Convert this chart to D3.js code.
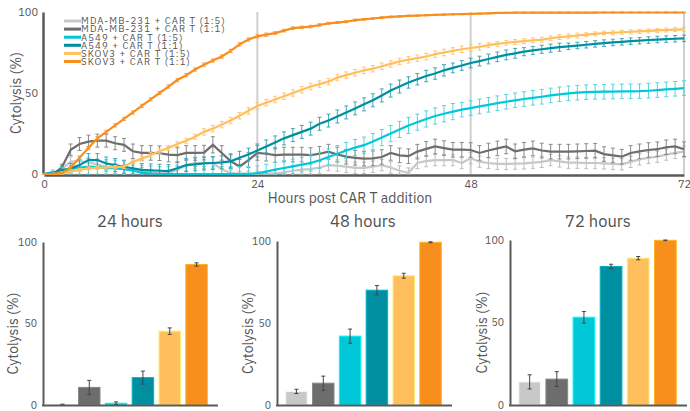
<!DOCTYPE html>
<html><head><meta charset="utf-8">
<script src="https://cdn.jsdelivr.net/npm/d3@7"></script>
<style>body{margin:0;background:#fff}svg{display:block}text{font-family:"IBM Plex Sans",Roboto,"Open Sans",sans-serif}</style>
</head><body><svg id="c" width="690" height="411"></svg>
<script>
const seriesNames = ["MDA-MB-231 + CAR T (1:5)","MDA-MB-231 + CAR T (1:1)","A549 + CAR T (1:5)","A549 + CAR T (1:1)","SKOV3 + CAR T (1:5)","SKOV3 + CAR T (1:1)"];
const seriesColors = ["#c8c8c8","#6d6d6d","#00c8d8","#008fa0","#ffbf5c","#f88f1c"];
const errColors = ["#bdbdbd","#8a8a8a","#4fd6e2","#3aa9b6","#ffc775","#f8a04a"];
const hours = d3.range(0,73);
const mda15 = [0,0.5,3,7.6,8,7,6,4.5,3.5,3,2.5,1.5,0.8,0.5,0.5,2.5,5.5,6.8,6.8,6.8,3,0.5,0.2,0.2,0.3,0.3,0.4,1,2,2.7,3,4,5.5,5.2,4.5,3.8,3.8,4.5,5.5,4,2,0.8,6.8,8,8.6,8.6,8.6,6.8,9.8,7.6,6.8,6.2,6.2,6.4,6.6,7,7.5,8.6,7.8,7,7,6.8,6.8,6.6,6.3,6,7.5,9,10,10.7,12,13,13.8];
const mda11 = [0,0,4,15,18.5,20,20.6,20.6,19,18,14,13,13,12.8,12,11.7,13,13,13.2,18,13,8,4.5,8.6,13,12.5,11.7,12,12,12,11.7,12.5,13.8,12,10.7,10,9.5,9.7,10.5,13,11.5,11,13.8,15.5,17,16,15,15,14.8,13,14.5,15.8,17,14,15,15.8,14.5,13.8,13.8,13.8,14,14.2,14.4,12.3,11.5,10.7,13,14,14.8,15.3,16.5,17,15.3];
const a54915 = [0,1,1.5,3,4,4.5,4.2,3.8,3.5,3,2,0.8,0.3,0,0,0,0,0,0,0,0,0,0,0,0.5,1.5,2.7,3.7,4.7,5.8,6.8,8.5,10.5,12.5,14.5,16.3,17.8,20,22.5,25,27.5,30,32,34,35.8,37.2,38.5,39.7,40.7,41.7,42.7,43.7,44.6,45.5,46.3,47,47.7,48.5,49.2,49.8,50.2,50.5,50.7,50.8,50.9,51,51,51.1,51.4,51.8,52.2,52.6,53];
const a54911 = [0,0.5,2.5,3.5,5.5,8.6,8.6,6.5,5.5,4.5,3.5,2.5,2.2,2,1.8,3.5,5.5,6,6.5,6.8,7.2,7.8,10,12,14.5,17,19.5,22,24,26,28,31,33,35.5,38,40.5,43,45.5,48.5,51.5,54,56.5,58.5,60.5,62,64,65.5,67,68.5,69.7,71,72.3,73.5,74.5,75.5,76.3,77,77.7,78.3,78.8,79.3,79.8,80.3,80.8,81.2,81.6,82,82.3,82.7,83,83.3,83.5,83.7];
const skov15 = [0,0,0.5,1.5,2.5,3.5,3.8,4,4.2,4.5,7.5,9.5,11.7,14,16,18.5,20.5,23,26,28,30.5,33,36,39,42,44,46,48,50,52,54,55.5,57,59.5,61,62.5,64,65,66.5,68,69.5,70.5,71.5,72.5,74,75,76,77,77.8,78.5,79.5,80.3,81,81.5,82,82.5,83,83.8,84.5,85,85.5,86,86.5,87,87.2,87.5,87.8,88,88.3,88.6,88.9,89.1,89.3];
const skov11 = [0,0,0.5,4,10,16,22,26,30,34,38,42,46,50,54,58,61,64.5,67.5,70,72.5,76,80,83,85,86,87,88.5,90,90.5,91,92,93,93.5,94,95,95.5,96,96.5,97,97.3,97.6,97.8,98,98.2,98.4,98.6,98.7,98.8,99,99.2,99.4,99.5,99.6,99.6,99.6,99.6,99.6,99.6,99.6,99.6,99.6,99.6,99.7,99.7,99.7,99.7,99.7,99.7,99.7,99.7,99.7,99.7];
const errMda15 = [0.3,1,2,3,3,3,3,3,3,3,3,2.5,2,2,2,3,3.5,3.5,3.5,3.5,3,2,1.5,1.5,1.5,1.5,2,2.5,3,3,3,3.5,3.5,3.5,3.5,3.5,3.5,3.5,3.5,3.5,3,3,3.5,3.5,3.5,3.5,3.5,3.5,3.5,3.5,3.5,3.5,3.5,3.5,3.5,3.5,3.5,3.5,3.5,3.5,3.5,3.5,3.5,3.5,3.5,3.5,3.5,3.5,3.5,3.5,3.5,3.5,3.5];
const errMda11 = [0.3,1,2,3.5,4,4,4,4,4,4,4.5,4.5,4.5,4.5,4.5,4.5,4.5,4.5,4.5,5,4.5,4.5,4.5,4.5,4.5,4.5,4.5,4.5,4.5,4.5,4.5,4.5,4.5,4.5,4.5,4.5,4.5,4.5,4.5,4.5,4.5,4.5,4.5,4.5,4.5,4.5,4.5,4.5,4.5,4.5,4.5,4.5,4.5,4.5,4.5,4.5,4.5,4.5,4.5,4.5,4.5,4.5,4.5,4.5,4.5,4.5,4.5,4.5,4.5,4.5,4.5,4.5,4.5];
const errA54915 = [0.3,1.5,2.5,3.5,4.5,5,5,5,5,5,4.5,4.5,4.5,4.5,4.5,4.5,4.5,4.5,4.5,4.5,4.5,4.5,4.5,4.5,4.5,4.5,4.5,4.5,4.5,4.5,5,5,5,5,5,5,5,5,5,5,5,5,5,5,5,5,5,4.5,4.5,4.5,4.5,4.5,4.5,4.5,4.5,4.5,4.5,4.5,4.5,4.5,4.5,4.5,4.5,4.5,4.5,4.5,4.5,4.5,4.5,4.5,4.5,4.5,4.5];
const errA54911 = [0.3,1,2,3,3.5,4,4,4,4,4,4,4,4,4,4,4,4,4,4,4,4,4,4,4,4,4,4,4,4,4,4,4,4,4,4,4,4,4,4,4,4,3.5,3.5,3.5,3.5,3.5,3,3,3,3,3,3,3,3,2.5,2.5,2.5,2.5,2.5,2,2,2,2,2,2,2,2,2,2,2,2,2,2];
const errSkov15 = [0.3,0.5,0.8,1,1,1,1,1,1,1,1.2,1.5,1.5,1.5,1.5,1.5,1.5,1.5,2,2,2,2,2,2,2,2,2,2,2,2,2,2,2,2,2,2,2,2,2,2,2,2,2,2,2,2,2,2,2,2,1.5,1.5,1.5,1.5,1.5,1.5,1.5,1.5,1.5,1.5,1.5,1.2,1.2,1.2,1.2,1.2,1.2,1.2,1.2,1.2,1.2,1.2,1.2];
const errSkov11 = [0.3,0.5,0.8,1,1,1,1,1,1,1,1,1,1,1,1,1,1,1,1,1,1,1,1,1,1,1,0.8,0.8,0.8,0.8,0.8,0.8,0.6,0.6,0.6,0.6,0.5,0.5,0.5,0.5,0.5,0.4,0.4,0.4,0.4,0.4,0.4,0.3,0.3,0.3,0.3,0.3,0.3,0.3,0.3,0.3,0.3,0.3,0.3,0.3,0.3,0.3,0.3,0.3,0.3,0.3,0.3,0.3,0.3,0.3,0.3,0.3,0.3];
const lineValues = [mda15, mda11, a54915, a54911, skov15, skov11];
const lineErrors = [errMda15, errMda11, errA54915, errA54911, errSkov15, errSkov11];
const xTicks = [0,24,48,72];
const yTicks = [0,50,100];
const panelTitles = ["24 hours","48 hours","72 hours"];
const bars24 = [0.3,10.8,1.1,16.8,45.3,86.2];
const err24 = [0.2,4.3,0.8,4,2,1];
const bars48 = [8.3,13.3,42,70,78.8,99.2];
const err48 = [1.3,4.3,4.3,2.8,1.5,0.3];
const bars72 = [14,15.7,53.2,84,89,99.8];
const err72 = [4.3,4.5,3.5,1.3,1,0.2];
const barValues = [bars24, bars48, bars72];
const barErrors = [err24, err48, err72];

const svg = d3.select("#c");
const axisCol = "#5a5a5a", textCol = "#555";

// ---------- top line chart ----------
const x = d3.scaleLinear().domain([0,72]).range([44,684]);
const y = d3.scaleLinear().domain([0,100]).range([174,12]);
const topG = svg.append("g");
topG.selectAll("line.grid").data(xTicks.slice(1)).join("line")
  .attr("x1",d=>x(d)).attr("x2",d=>x(d)).attr("y1",y(100)).attr("y2",y(0))
  .attr("stroke","#cfcfcf").attr("stroke-width",2);
const xAxis = topG.append("g").attr("transform",`translate(0,${y(0)+1})`)
  .call(d3.axisBottom(x).tickValues(xTicks).tickSize(0).tickPadding(5));
xAxis.select(".domain").attr("stroke",axisCol).attr("stroke-width",2.5);
xAxis.selectAll("text").attr("fill",textCol).attr("font-size",11);
const yAxis = topG.append("g").attr("transform",`translate(${x(0)-1},0)`)
  .call(d3.axisLeft(y).tickValues(yTicks).tickSize(0).tickPadding(5));
yAxis.select(".domain").attr("stroke",axisCol).attr("stroke-width",2.5);
yAxis.selectAll("text").attr("fill",textCol).attr("font-size",11);
topG.append("text").attr("x",350).attr("y",203).attr("text-anchor","middle")
  .attr("font-size",14).attr("fill",textCol).text("Hours post CAR T addition");
topG.append("text").attr("transform",`translate(21,${y(50)}) rotate(-90)`).attr("text-anchor","middle")
  .attr("font-size",14).attr("fill",textCol).text("Cytolysis (%)");

const line = d3.line().x((d,i)=>x(hours[i])).y(d=>y(d));
lineValues.forEach((vals,s)=>{
  const g = topG.append("g");
  const errs = lineErrors[s];
  vals.forEach((v,i)=>{
    const e = errs[i];
    const xx = x(hours[i]);
    const y1 = y(Math.max(v-e,0)), y2 = y(Math.min(v+e,100));
    g.append("line").attr("x1",xx).attr("x2",xx).attr("y1",y1).attr("y2",y2).attr("stroke",errColors[s]).attr("stroke-width",1);
    [y1,y2].forEach(yy=>g.append("line").attr("x1",xx-2).attr("x2",xx+2).attr("y1",yy).attr("y2",yy).attr("stroke",errColors[s]).attr("stroke-width",1));
  });
  g.append("path").datum(vals).attr("d",line).attr("fill","none")
    .attr("stroke",seriesColors[s]).attr("stroke-width",2.2);
});

// legend
const leg = topG.append("g");
seriesNames.forEach((n,i)=>{
  const yy = 21 + i*8.1;
  leg.append("line").attr("x1",64).attr("x2",81).attr("y1",yy).attr("y2",yy)
    .attr("stroke",seriesColors[i]).attr("stroke-width",3);
  leg.append("text").attr("x",81).attr("y",yy+3.3).attr("font-size",9.6)
    .attr("letter-spacing",1.1).attr("fill",textCol).text(n);
});

// ---------- bar panels ----------
const panels = [
  {x0:43, x1:218, y0:405, y1:242, tx:130, lx:13},
  {x0:277, x1:452, y0:405, y1:241, tx:363, lx:248},
  {x0:510, x1:687, y0:405, y1:240, tx:598, lx:482}
];
panels.forEach((p,k)=>{
  const g = svg.append("g");
  const bx = d3.scaleBand().domain(d3.range(6)).range([p.x0+2,p.x1-4]).paddingInner(0.2).paddingOuter(0.25);
  const by = d3.scaleLinear().domain([0,100]).range([p.y0,p.y1]);
  g.append("text").attr("x",p.tx).attr("y",227).attr("text-anchor","middle")
    .attr("font-size",16.5).attr("fill","#505050").text(panelTitles[k]);
  g.selectAll("rect").data(barValues[k]).join("rect")
    .attr("x",(d,i)=>bx(i)).attr("width",bx.bandwidth())
    .attr("y",d=>by(d)).attr("height",d=>p.y0-by(d))
    .attr("fill",(d,i)=>seriesColors[i])
    .attr("stroke",(d,i)=>d3.color(seriesColors[i]).brighter(0.6)).attr("stroke-width",1);
  barValues[k].forEach((v,i)=>{
    const e = barErrors[k][i], cx = bx(i)+bx.bandwidth()/2;
    const a = by(v-e), b = by(Math.min(v+e,100));
    g.append("line").attr("x1",cx).attr("x2",cx).attr("y1",a).attr("y2",b).attr("stroke","#444").attr("stroke-width",1);
    [a,b].forEach(yy=>g.append("line").attr("x1",cx-2).attr("x2",cx+2).attr("y1",yy).attr("y2",yy).attr("stroke","#444").attr("stroke-width",1));
  });
  const ya = g.append("g").attr("transform",`translate(${p.x0},0)`)
    .call(d3.axisLeft(by).tickValues(yTicks).tickSize(0).tickPadding(6));
  ya.select(".domain").attr("stroke",axisCol).attr("stroke-width",2);
  ya.selectAll("text").attr("fill",textCol).attr("font-size",10.5);
  g.append("line").attr("x1",p.x0-1).attr("x2",p.x1).attr("y1",p.y0+0.5).attr("y2",p.y0+0.5)
    .attr("stroke",axisCol).attr("stroke-width",2);
  g.append("text").attr("transform",`translate(${p.lx+5},${(p.y0+p.y1)/2+10}) rotate(-90)`).attr("text-anchor","middle")
    .attr("font-size",14).attr("fill",textCol).text("Cytolysis (%)");
});
</script></body></html>
